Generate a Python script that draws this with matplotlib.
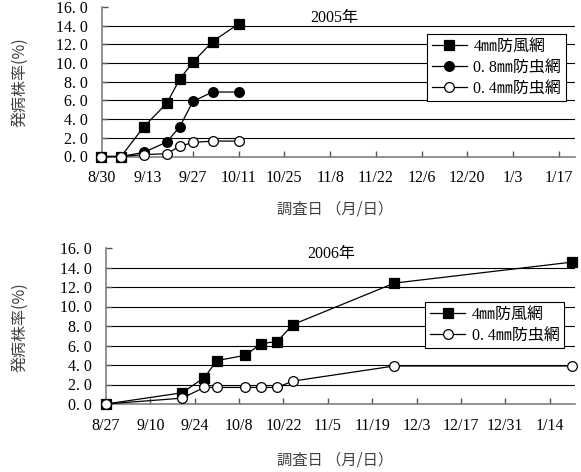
import datetime as dt
import matplotlib
matplotlib.use("Agg")
import matplotlib.pyplot as plt
import matplotlib.dates as mdates
from matplotlib.ticker import FixedLocator, FuncFormatter

plt.rcParams['font.family'] = ['Liberation Serif', 'Noto Sans CJK JP']

# ---- 2005 data ----
dates05 = ["2005-08-30", "2005-09-05", "2005-09-12", "2005-09-19", "2005-09-23",
           "2005-09-27", "2005-10-03", "2005-10-11"]
wind4mm_05 = [0.0, 0.0, 3.2, 5.7, 8.3, 10.1, 12.3, 14.2]
insect08_05 = [0.0, 0.0, 0.45, 1.55, 3.2, 5.9, 6.9, 6.9]
insect04_05 = [0.0, 0.0, 0.2, 0.3, 1.1, 1.5, 1.65, 1.65]

# ---- 2006 data ----
dates06 = ["2006-08-27", "2006-09-20", "2006-09-27", "2006-10-01", "2006-10-10",
           "2006-10-15", "2006-10-20", "2006-10-25", "2006-11-26", "2007-01-21"]
wind4mm_06 = [0.0, 1.15, 2.7, 4.45, 5.0, 6.2, 6.4, 8.15, 12.4, 14.55]
insect04_06 = [0.0, 0.6, 1.7, 1.7, 1.7, 1.7, 1.7, 2.35, 3.9, 3.9]

LBL_WIND = "4㎜防風網"
LBL_08 = "0. 8㎜防虫網"
LBL_04 = "0. 4㎜防虫網"
YTICKS = [0, 2, 4, 6, 8, 10, 12, 14, 16]
FS = 11.5


def to_dates(lst):
    return [dt.datetime.strptime(s, "%Y-%m-%d") for s in lst]


def style_axis(ax, start, span, tick_end):
    ax.set_xlim(start, start + dt.timedelta(days=span))
    ax.set_ylim(0, 16)
    ticks = []
    t = start
    while t <= tick_end:
        ticks.append(mdates.date2num(t))
        t += dt.timedelta(days=14)
    ax.xaxis.set_major_locator(FixedLocator(ticks))
    ax.xaxis.set_major_formatter(FuncFormatter(
        lambda v, p: "%d/%d" % (mdates.num2date(v).month, mdates.num2date(v).day)))
    ax.yaxis.set_major_locator(FixedLocator(YTICKS))
    ax.yaxis.set_major_formatter(FuncFormatter(lambda v, p: ("%.1f" % v).replace(".", ". ")))
    for y in YTICKS[1:-1]:
        ax.axhline(y, color="black", lw=0.8, zorder=1)
    for s in ("top", "right"):
        ax.spines[s].set_visible(False)
    for s in ("left", "bottom"):
        ax.spines[s].set_color("#808080")
        ax.spines[s].set_linewidth(1.2)
    ax.tick_params(direction="in", length=4, width=1, color="#555555",
                   labelsize=FS)
    ax.tick_params(axis="y", pad=10)
    ax.tick_params(axis="x", pad=10)


def series(ax, x, y, marker, face, label):
    ax.plot(x, y, color="black", lw=0.9, marker=marker, ms=7, mfc=face,
            mec="black", mew=0.9, label=label, clip_on=False, zorder=3)


def add_legend(ax, anchor):
    leg = ax.legend(loc="upper right", bbox_to_anchor=anchor, fontsize=FS,
                    fancybox=False, edgecolor="black", framealpha=1,
                    handlelength=2.2, borderpad=0.3, labelspacing=0.3,
                    handletextpad=0.4, borderaxespad=0)
    leg.get_frame().set_linewidth(0.8)


fig = plt.figure(figsize=(5.81, 4.72), dpi=100)

# top panel (2005)
ax1 = fig.add_axes([101.5 / 581, 1 - 156.5 / 472, 473.5 / 581, 149.5 / 472])
x05 = to_dates(dates05)
series(ax1, x05, wind4mm_05, "s", "black", LBL_WIND)
series(ax1, x05, insect08_05, "o", "black", LBL_08)
series(ax1, x05, insect04_05, "o", "white", LBL_04)
style_axis(ax1, dt.datetime(2005, 8, 30), 145, dt.datetime(2006, 1, 17))
ax1.text(0.491, 0.926, "2005年", transform=ax1.transAxes, ha="center", va="center",
         fontsize=FS)
add_legend(ax1, (0.981, 0.819))

# bottom panel (2006)
ax2 = fig.add_axes([106 / 581, 1 - 404 / 472, 469 / 581, 156 / 472])
x06 = to_dates(dates06)
series(ax2, x06, wind4mm_06, "s", "black", LBL_WIND)
series(ax2, x06, insect04_06, "o", "white", LBL_04)
style_axis(ax2, dt.datetime(2006, 8, 27), 148, dt.datetime(2007, 1, 14))
ax2.text(0.48, 0.96, "2006年", transform=ax2.transAxes, ha="center", va="center",
         fontsize=FS)
add_legend(ax2, (0.977, 0.654))

# axis titles
for yc in (82, 327):
    fig.text(20 / 581, 1 - yc / 472, "発病株率(%)", rotation=90, ha="center",
             va="center", fontsize=11.5, color="#404040",
             family=["Noto Sans CJK JP"])
for yc in (209, 460):
    fig.text(335 / 581, 1 - yc / 472, "調査日 （月/日）", ha="center",
             va="center", fontsize=11, color="#404040",
             family=["Noto Sans CJK JP"])

fig.savefig("out.png", dpi=100)
